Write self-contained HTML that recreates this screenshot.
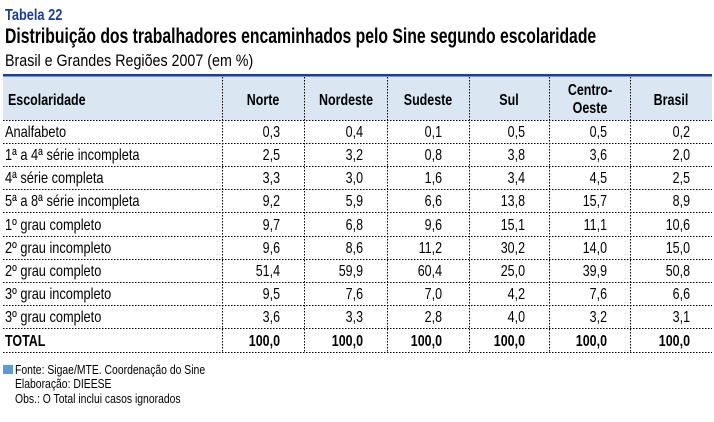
<!DOCTYPE html>
<html><head><meta charset="utf-8"><style>
html,body{margin:0;padding:0;background:#fff;width:714px;height:422px;overflow:hidden}
svg{display:block}
text{font-family:"Liberation Sans Narrow","Liberation Sans",sans-serif}
</style></head><body>
<svg width="714" height="422" xmlns="http://www.w3.org/2000/svg">
<g font-family="Liberation Sans">
<text transform="translate(5,20) scale(0.8,1)" font-size="16" font-weight="bold" fill="#1a3f9a">Tabela 22</text>
<text transform="translate(5,43) scale(0.75,1)" font-size="21" font-weight="bold" fill="#000">Distribuição dos trabalhadores encaminhados pelo Sine segundo escolaridade</text>
<text transform="translate(5,66) scale(0.84,1)" font-size="17" fill="#000">Brasil e Grandes Regiões 2007 (em %)</text>
</g>
<rect x="3" y="76" width="709" height="44" fill="#dbe6f3"/>
<rect x="3" y="74" width="709" height="2.5" fill="#1a3f9a"/>
<g stroke="#000" stroke-width="1" stroke-dasharray="1.5,1.5" fill="none">
<line x1="3" y1="120.5" x2="712" y2="120.5"/>
<line x1="3" y1="143.5" x2="712" y2="143.5"/>
<line x1="3" y1="166.5" x2="712" y2="166.5"/>
<line x1="3" y1="189.5" x2="712" y2="189.5"/>
<line x1="3" y1="212.5" x2="712" y2="212.5"/>
<line x1="3" y1="236.5" x2="712" y2="236.5"/>
<line x1="3" y1="259.5" x2="712" y2="259.5"/>
<line x1="3" y1="282.5" x2="712" y2="282.5"/>
<line x1="3" y1="305.5" x2="712" y2="305.5"/>
<line x1="3" y1="328.5" x2="712" y2="328.5"/>
<line x1="3" y1="352.5" x2="712" y2="352.5"/>
<line x1="222.5" y1="77" x2="222.5" y2="352"/>
<line x1="304.5" y1="77" x2="304.5" y2="352"/>
<line x1="387.5" y1="77" x2="387.5" y2="352"/>
<line x1="469.5" y1="77" x2="469.5" y2="352"/>
<line x1="549.5" y1="77" x2="549.5" y2="352"/>
<line x1="630.5" y1="77" x2="630.5" y2="352"/>
</g>
<g font-size="16" font-weight="bold" fill="#000" text-anchor="middle">
<text transform="translate(8,105) scale(0.78,1)" text-anchor="start">Escolaridade</text>
<text transform="translate(263,105) scale(0.78,1)">Norte</text>
<text transform="translate(346,105) scale(0.78,1)">Nordeste</text>
<text transform="translate(428,105) scale(0.78,1)">Sudeste</text>
<text transform="translate(509,105) scale(0.78,1)">Sul</text>
<text transform="translate(590,95) scale(0.78,1)">Centro-</text>
<text transform="translate(590,113) scale(0.78,1)">Oeste</text>
<text transform="translate(671,105) scale(0.78,1)">Brasil</text>
</g>
<g font-size="16" fill="#000">
<g>
<text transform="translate(5,137) scale(0.8,1)">Analfabeto</text>
<text transform="translate(5,160) scale(0.8,1)">1ª a 4ª série incompleta</text>
<text transform="translate(5,183) scale(0.8,1)">4ª série completa</text>
<text transform="translate(5,206) scale(0.8,1)">5ª a 8ª série incompleta</text>
<text transform="translate(5,230) scale(0.8,1)">1º grau completo</text>
<text transform="translate(5,253) scale(0.8,1)">2º grau incompleto</text>
<text transform="translate(5,276) scale(0.8,1)">2º grau completo</text>
<text transform="translate(5,299) scale(0.8,1)">3º grau incompleto</text>
<text transform="translate(5,322) scale(0.8,1)">3º grau completo</text>
<text transform="translate(5,346) scale(0.78,1)" font-weight="bold">TOTAL</text>
</g>
<g text-anchor="end">
<text transform="translate(280,137) scale(0.78,1)">0,3</text><text transform="translate(363,137) scale(0.78,1)">0,4</text><text transform="translate(442,137) scale(0.78,1)">0,1</text><text transform="translate(525,137) scale(0.78,1)">0,5</text><text transform="translate(607,137) scale(0.78,1)">0,5</text><text transform="translate(690,137) scale(0.78,1)">0,2</text>
<text transform="translate(280,160) scale(0.78,1)">2,5</text><text transform="translate(363,160) scale(0.78,1)">3,2</text><text transform="translate(442,160) scale(0.78,1)">0,8</text><text transform="translate(525,160) scale(0.78,1)">3,8</text><text transform="translate(607,160) scale(0.78,1)">3,6</text><text transform="translate(690,160) scale(0.78,1)">2,0</text>
<text transform="translate(280,183) scale(0.78,1)">3,3</text><text transform="translate(363,183) scale(0.78,1)">3,0</text><text transform="translate(442,183) scale(0.78,1)">1,6</text><text transform="translate(525,183) scale(0.78,1)">3,4</text><text transform="translate(607,183) scale(0.78,1)">4,5</text><text transform="translate(690,183) scale(0.78,1)">2,5</text>
<text transform="translate(280,206) scale(0.78,1)">9,2</text><text transform="translate(363,206) scale(0.78,1)">5,9</text><text transform="translate(442,206) scale(0.78,1)">6,6</text><text transform="translate(525,206) scale(0.78,1)">13,8</text><text transform="translate(607,206) scale(0.78,1)">15,7</text><text transform="translate(690,206) scale(0.78,1)">8,9</text>
<text transform="translate(280,230) scale(0.78,1)">9,7</text><text transform="translate(363,230) scale(0.78,1)">6,8</text><text transform="translate(442,230) scale(0.78,1)">9,6</text><text transform="translate(525,230) scale(0.78,1)">15,1</text><text transform="translate(607,230) scale(0.78,1)">11,1</text><text transform="translate(690,230) scale(0.78,1)">10,6</text>
<text transform="translate(280,253) scale(0.78,1)">9,6</text><text transform="translate(363,253) scale(0.78,1)">8,6</text><text transform="translate(442,253) scale(0.78,1)">11,2</text><text transform="translate(525,253) scale(0.78,1)">30,2</text><text transform="translate(607,253) scale(0.78,1)">14,0</text><text transform="translate(690,253) scale(0.78,1)">15,0</text>
<text transform="translate(280,276) scale(0.78,1)">51,4</text><text transform="translate(363,276) scale(0.78,1)">59,9</text><text transform="translate(442,276) scale(0.78,1)">60,4</text><text transform="translate(525,276) scale(0.78,1)">25,0</text><text transform="translate(607,276) scale(0.78,1)">39,9</text><text transform="translate(690,276) scale(0.78,1)">50,8</text>
<text transform="translate(280,299) scale(0.78,1)">9,5</text><text transform="translate(363,299) scale(0.78,1)">7,6</text><text transform="translate(442,299) scale(0.78,1)">7,0</text><text transform="translate(525,299) scale(0.78,1)">4,2</text><text transform="translate(607,299) scale(0.78,1)">7,6</text><text transform="translate(690,299) scale(0.78,1)">6,6</text>
<text transform="translate(280,322) scale(0.78,1)">3,6</text><text transform="translate(363,322) scale(0.78,1)">3,3</text><text transform="translate(442,322) scale(0.78,1)">2,8</text><text transform="translate(525,322) scale(0.78,1)">4,0</text><text transform="translate(607,322) scale(0.78,1)">3,2</text><text transform="translate(690,322) scale(0.78,1)">3,1</text>
<g font-weight="bold">
<text transform="translate(280,346) scale(0.78,1)">100,0</text><text transform="translate(363,346) scale(0.78,1)">100,0</text><text transform="translate(442,346) scale(0.78,1)">100,0</text><text transform="translate(525,346) scale(0.78,1)">100,0</text><text transform="translate(607,346) scale(0.78,1)">100,0</text><text transform="translate(690,346) scale(0.78,1)">100,0</text>
</g>
</g>
</g>
<rect x="3" y="365" width="10" height="9" fill="#5b9bd5"/>
<g font-size="13" fill="#000">
<text transform="translate(15,374) scale(0.8,1)">Fonte: Sigae/MTE. Coordenação do Sine</text>
<text transform="translate(15,388) scale(0.8,1)">Elaboração: DIEESE</text>
<text transform="translate(15,403) scale(0.8,1)">Obs.: O Total inclui casos ignorados</text>
</g>
</svg>
</body></html>
